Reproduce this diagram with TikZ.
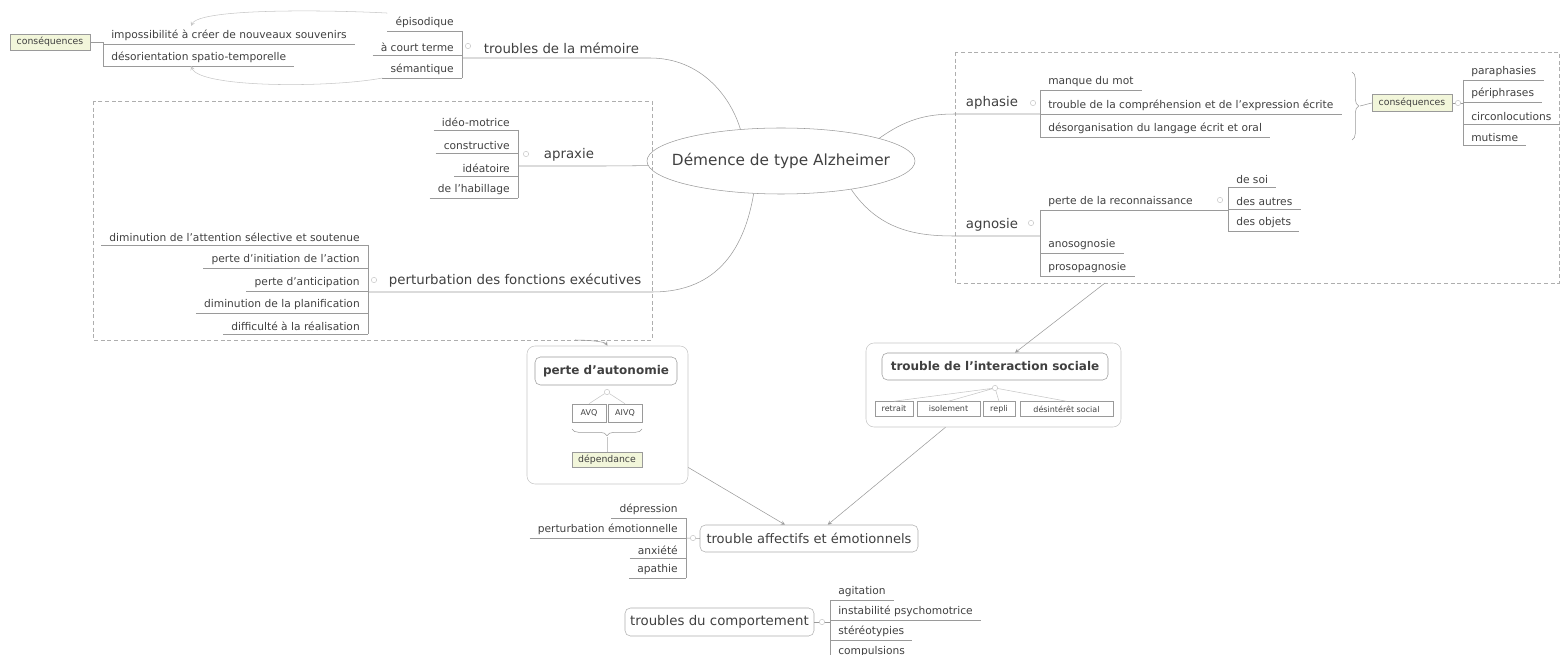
\documentclass[tikz,border=0pt]{standalone}
\usepackage{fontspec}
\setmainfont{DejaVu Sans}
\usepackage{tikz}
\usetikzlibrary{shapes.geometric,decorations.pathreplacing}

\definecolor{txt}{HTML}{404040}
\definecolor{ln}{HTML}{9A9A9A}
\definecolor{lnlight}{HTML}{C6C6C6}
\definecolor{conseqfill}{HTML}{F2F6DA}

\tikzset{
  item/.style={font=\fontsize{8}{9}\selectfont, text=txt, inner xsep=6pt, inner ysep=2.5pt,
    append after command={(\tikzlastnode.south west) edge[draw=ln] (\tikzlastnode.south east)}},
  itemR/.style={item, anchor=south west},
  itemL/.style={item, anchor=south east},
  branch/.style={font=\fontsize{10}{12}\selectfont, text=txt, inner xsep=8pt, inner ysep=3pt, anchor=south west},
  toggle/.style={circle, draw=lnlight, fill=white, inner sep=0pt, minimum size=4pt},
  grp/.style={draw=ln!80, dash pattern=on 3pt off 2pt},
  conseq/.style={draw=ln, fill=conseqfill, font=\fontsize{7}{8}\selectfont, text=txt, inner sep=1pt},
  tag/.style={draw=ln, font=\fontsize{6}{7}\selectfont, text=txt, inner sep=1pt},
  topbox/.style={draw=ln, rounded corners=4pt, font=\bfseries\fontsize{9}{11}\selectfont, text=txt, inner xsep=2pt},
  mainbox/.style={draw=ln!80, rounded corners=4pt, font=\fontsize{9.8}{11}\selectfont, text=txt, inner xsep=2pt},
  holder/.style={draw=lnlight, rounded corners=6pt},
  wire/.style={draw=ln},
  faint/.style={draw=lnlight},
  rel/.style={draw=ln, -stealth}
}

\begin{document}
\begin{tikzpicture}[x=0.75pt,y=-0.75pt]
  \useasboundingbox (0,0) rectangle (1563,655);

  \node[ellipse, draw=ln, inner xsep=-11pt, inner ysep=0pt, minimum width=201pt, minimum height=49.5pt, font=\fontsize{11.5}{13}\selectfont, text=txt] (centre) at (781,161) {Démence de type Alzheimer};

  \node[itemL] (episod) at (462,31) {épisodique};
  \node[itemL] (court) at (462,55) {à court terme};
  \node[itemL] (semant) at (462,78) {sémantique};
  \draw[wire] (episod.south east) -- (semant.south east);
  \node[branch] (memo) at (473,58) {troubles de la mémoire};
  \node[toggle] at (468,46) {};
  \draw[wire] (court.south east |- memo.south west) -- (memo.south west) -- (memo.south east) .. controls (700,58) and (730,95) .. (centre.142);

  \node[conseq, minimum width=60pt, minimum height=12pt] (conseqL) at (50,42) {conséquences};
  \node[itemR] (imposs) at (103,44) {impossibilité à créer de nouveaux souvenirs};
  \node[itemR] (desor) at (103,66) {désorientation spatio-temporelle};
  \draw[wire] (conseqL.east) -- (conseqL.east -| imposs.south west) -- (desor.south west);
  \draw[rel, faint] (episod.north west) .. controls (330,10) and (200,8) .. ([xshift=66pt]imposs.north west);
  \draw[rel, faint] (semant.south west) .. controls (330,88) and (200,88) .. ([xshift=66pt]desor.south west);

  \draw[grp] (93,101) rectangle (652,340);

  \node[itemL] (ideomot) at (518,130) {idéo-motrice};
  \node[itemL] (construct) at (518,153) {constructive};
  \node[itemL] (ideat) at (518,176) {idéatoire};
  \node[itemL] (habill) at (518,198) {de l'habillage};
  \draw[wire] (ideomot.south east) -- (habill.south east);
  \node[branch] (apraxie) at (533,166) {apraxie};
  \node[toggle] at (526,154) {};
  \draw[wire] (ideomot.south east |- apraxie.south west) -- (apraxie.south west) -- (apraxie.south east) -- (centre.182);

  \node[itemL] (attent) at (368,245) {diminution de l'attention sélective et soutenue};
  \node[itemL] (initia) at (368,268) {perte d'initiation de l'action};
  \node[itemL] (antici) at (368,291) {perte d'anticipation};
  \node[itemL] (planif) at (368,313) {diminution de la planification};
  \node[itemL] (realis) at (368,334) {difficulté à la réalisation};
  \draw[wire] (attent.south east) -- (realis.south east);
  \node[branch] (perturb) at (378,292) {perturbation des fonctions exécutives};
  \node[toggle] at (374,280) {};
  \draw[wire] (antici.south east |- perturb.south west) -- (perturb.south west) -- (perturb.south east) .. controls (720,292) and (745,245) .. (centre.230);

  \draw[grp] (955,52) rectangle (1559,283);

  \node[itemR] (manque) at (1040,90) {manque du mot};
  \node[itemR] (compre) at (1040,114) {trouble de la compréhension et de l'expression écrite};
  \node[itemR] (desorg) at (1040,137) {désorganisation du langage écrit et oral};
  \draw[wire] (manque.south west) -- (desorg.south west);
  \node[branch] (aphasie) at (955,114) {aphasie};
  \node[toggle] at (1033,103) {};
  \draw[wire] (centre.13) .. controls (905,120) and (925,114) .. (aphasie.south west) -- (aphasie.south east) -- (compre.south west);

  \draw[ln, decorate, decoration={brace, amplitude=5pt}] (1352,72) -- (1352,140);
  \coordinate (braceTip) at (1360,106);
  \node[conseq, minimum width=60pt, minimum height=12.75pt] (conseqR) at (1412,103) {conséquences};
  \draw[wire] (braceTip) -- (conseqR.west);
  \node[itemR] (paraph) at (1463,80) {paraphasies};
  \node[itemR] (periph) at (1463,102) {périphrases};
  \node[itemR] (circon) at (1463,124) {circonlocutions};
  \node[itemR] (mutism) at (1463,145) {mutisme};
  \draw[wire] (paraph.south west) -- (mutism.south west);
  \draw[wire] (conseqR.east) -- (conseqR.east -| paraph.south west);
  \node[toggle] at (1458,103) {};

  \node[itemR] (reco) at (1040,210) {perte de la reconnaissance};
  \node[itemR] (anosog) at (1040,253) {anosognosie};
  \node[itemR] (prosop) at (1040,276) {prosopagnosie};
  \draw[wire] (reco.south west) -- (prosop.south west);
  \node[branch] (agnosie) at (955,236) {agnosie};
  \node[toggle] at (1031,223) {};
  \draw[wire] (centre.338) .. controls (880,232) and (920,236) .. (agnosie.south west) -- (agnosie.south east) -- (agnosie.south east -| reco.south west);
  \node[itemR] (soi) at (1228,187) {de soi};
  \node[itemR] (autres) at (1228,209) {des autres};
  \node[itemR] (objets) at (1228,231) {des objets};
  \draw[wire] (soi.south west) -- (objets.south west);
  \draw[wire] (reco.south east) -- (reco.south east -| soi.south west);
  \node[toggle] at (1220,200) {};

  \coordinate (grpLout) at (575,340);
  \coordinate (grpRout) at (1105,283);

  \node[holder, minimum width=120.75pt, minimum height=103.5pt] (autoGrp) at (607.5,415) {};
  \node[topbox, minimum width=106.5pt, minimum height=21pt] (autoBox) at (606,371) {perte d'autonomie};
  \node[toggle] (autoT) at (607,392) {};
  \node[tag, minimum width=25.5pt, minimum height=13.5pt] (avq) at (589,413) {AVQ};
  \node[tag, minimum width=25.5pt, minimum height=13.5pt] (aivq) at (625,413) {AIVQ};
  \draw[faint] (autoT) -- (avq.north) (autoT) -- (aivq.north);
  \draw[ln, decorate, decoration={brace, mirror, amplitude=5pt}] (572,429) -- (642,429);
  \coordinate (autoTip) at (607,437);
  \node[conseq, minimum width=52.5pt, minimum height=11.25pt] (depend) at (607,460) {dépendance};
  \draw[faint] (autoTip) -- (depend.north);
  \draw[rel] (grpLout) .. controls (590,340) and (605,342) .. (autoGrp.north);

  \node[holder, minimum width=191.25pt, minimum height=63pt] (socGrp) at (993.5,385) {};
  \node[topbox, minimum width=169.5pt, minimum height=20.25pt] (socBox) at (995,366.5) {trouble de l'interaction sociale};
  \node[toggle] (socT) at (995,388) {};
  \node[tag, minimum width=28.5pt, minimum height=11.25pt] (retrait) at (894,409) {retrait};
  \node[tag, minimum width=47.25pt, minimum height=11.25pt] (isolem) at (948.5,409) {isolement};
  \node[tag, minimum width=24pt, minimum height=11.25pt] (repli) at (999,409) {repli};
  \node[tag, minimum width=69.75pt, minimum height=11.25pt] (desint) at (1066.5,409) {désintérêt social};
  \draw[faint] (socT) -- (retrait.north) (socT) -- (isolem.north) (socT) -- (repli.north) (socT) -- (desint.north);
  \draw[rel] (grpRout) -- ([xshift=15pt]socBox.north);

  \node[mainbox, minimum width=163.5pt, minimum height=20.25pt] (affect) at (809,538.5) {trouble affectifs et émotionnels};
  \node[itemL] (depress) at (686,518) {dépression};
  \node[itemL] (emotion) at (686,538) {perturbation émotionnelle};
  \node[itemL] (anxiet) at (686,558) {anxiété};
  \node[itemL] (apath) at (686,578) {apathie};
  \draw[wire] (depress.south east) -- (apath.south east);
  \draw[wire] (emotion.south east) -- (affect.west);
  \node[toggle] at (693,538) {};
  \draw[rel] (autoGrp.-33) -- ([xshift=-18pt]affect.north);
  \draw[rel] ([xshift=-36pt]socGrp.south) -- ([xshift=14pt]affect.north);

  \node[mainbox, minimum width=141.75pt, minimum height=21pt, font=\fontsize{10}{12}\selectfont] (comport) at (719.5,622) {troubles du comportement};
  \node[itemR] (agitat) at (830,600) {agitation};
  \node[itemR] (instab) at (830,620) {instabilité psychomotrice};
  \node[itemR] (stereo) at (830,640) {stéréotypies};
  \node[itemR] (compul) at (830,660) {compulsions};
  \draw[wire] (agitat.south west) -- (compul.south west);
  \draw[wire] (comport.east) -- (comport.east -| agitat.south west);
  \node[toggle] at (822,622) {};
\end{tikzpicture}
\end{document}
